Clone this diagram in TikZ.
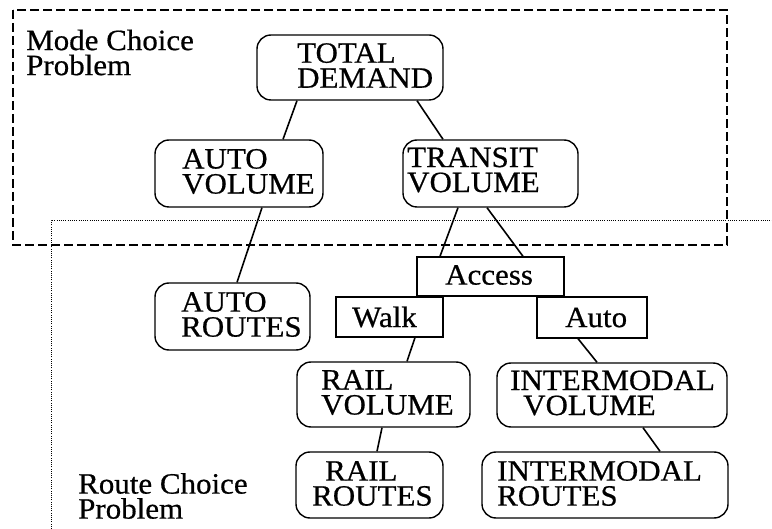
\documentclass[tikz,border=0pt]{standalone}
\usepackage{fontspec}
\setmainfont[FakeStretch=1.05,FakeBold=0.6]{Liberation Serif}
\begin{document}
\begin{tikzpicture}[x=1pt,y=-1pt,
  box/.style n args={2}{draw, line width=1.4pt, rounded corners=14pt,
    minimum width=#1, minimum height=#2, inner sep=0pt},
  sqbox/.style n args={2}{draw, line width=1.3pt,
    minimum width=#1, minimum height=#2, inner sep=0pt},
  lbl/.style={anchor=west, inner sep=0pt, align=left,
    font={\fontsize{29.5}{25}\selectfont}},
  conn/.style={line width=1.6pt},
  region/.style={line width=1.1pt, dash pattern=on 9pt off 4pt},
  subregion/.style={line width=0.9pt, dash pattern=on 1pt off 1.2pt}]
\useasboundingbox (0,0) rectangle (772,529);

% problem regions
\draw[region] (13,10) rectangle (727,245);
\draw[subregion] (51,529) -- (51,220) -- (772,220);
\node[lbl] (modelbl) at (26,52.5) {Mode Choice\\Problem};
\node[lbl] (routelbl) at (78,496) {Route Choice\\Problem};

% demand tree
\node[box={186pt}{65pt}] (td) at (350,67.5) {};
\node[box={168pt}{67pt}] (av) at (239,173.5) {};
\node[box={175pt}{67pt}] (tv) at (490.5,173.5) {};
\node[box={155pt}{67pt}] (ar) at (232.5,316.5) {};
\node[sqbox={147pt}{39pt}] (acc) at (490.5,276.5) {};
\node[sqbox={107pt}{40pt}] (walk) at (389.5,317) {};
\node[sqbox={110pt}{41pt}] (auto) at (592,317.5) {};
\node[box={173pt}{65pt}] (rv) at (383.5,394.5) {};
\node[box={230pt}{64pt}] (iv) at (612,395) {};
\node[box={147pt}{66pt}] (rr) at (369.5,485) {};
\node[box={246pt}{66pt}] (ir) at (605,485) {};

% box texts
\node[lbl] (tdtxt) at (297,65.5) {TOTAL\\DEMAND};
\node[lbl] (avtxt) at (182,171.5) {AUTO\\VOLUME};
\node[lbl] (tvtxt) at (407,170) {TRANSIT\\VOLUME};
\node[lbl] (artxt) at (181,314.5) {AUTO\\ROUTES};
\node[lbl] (acctxt) at (445,275) {Access};
\node[lbl] (walktxt) at (352,317) {Walk};
\node[lbl] (autotxt) at (565,317.5) {Auto};
\node[lbl] (rvtxt) at (321,392.5) {RAIL\\VOLUME};
\node[lbl] (ivtxt) at (510,393) {INTERMODAL\\\hspace*{13pt}VOLUME};
\node[lbl] (rrtxt) at (312,483.5) {\hspace*{13pt}RAIL\\ROUTES};
\node[lbl] (irtxt) at (497,483.5) {INTERMODAL\\ROUTES};

% connectors
\draw[conn] ([xshift=-53pt]td.south) -- ([xshift=44pt]av.north);
\draw[conn] ([xshift=67pt]td.south) -- ([xshift=-47.5pt]tv.north);
\draw[conn] ([xshift=23pt]av.south) -- ([xshift=4.5pt]ar.north);
\draw[conn] ([xshift=-32.5pt]tv.south) -- ([xshift=-50.5pt]acc.north);
\draw[conn] ([xshift=-3.5pt]tv.south) -- ([xshift=32.5pt]acc.north);
\draw[conn] ([xshift=25.5pt]walk.south) -- ([xshift=23.5pt]rv.north);
\draw[conn] ([xshift=-14pt]auto.south) -- ([xshift=-15pt]iv.north);
\draw[conn] ([xshift=-1.5pt]rv.south) -- ([xshift=7.5pt]rr.north);
\draw[conn] ([xshift=31pt]iv.south) -- ([xshift=55pt]ir.north);
\end{tikzpicture}
\end{document}
